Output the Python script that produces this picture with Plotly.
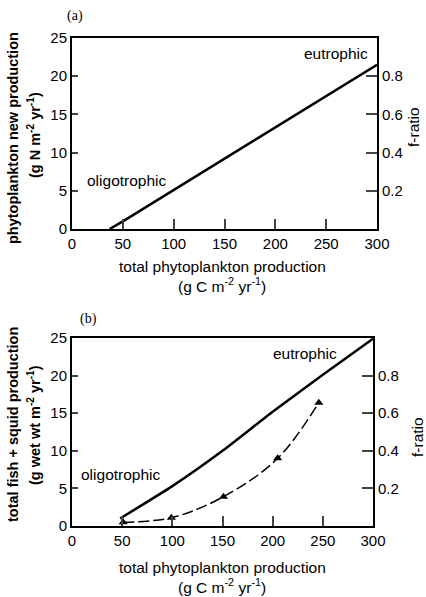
import plotly.graph_objects as go

# Panel (a): phytoplankton new production vs total production
a_x = [37, 50, 300]
a_y = [0, 1.0, 21.5]

# Panel (b): fish + squid production
b_line_x = [48, 100, 150, 200, 250, 300]
b_line_y = [1.0, 5.3, 10.0, 15.2, 20.1, 24.9]
b_pts_x = [51, 99, 151, 205, 246]
b_pts_y = [0.5, 1.1, 3.9, 9.0, 16.4]

x_ticks = [0, 50, 100, 150, 200, 250, 300]
y_ticks = [0, 5, 10, 15, 20, 25]
f_ticks = [0.2, 0.4, 0.6, 0.8]
f_labels = ["0.2", "0.4", "0.6", "0.8"]

FONT = "Liberation Sans, Arial"
SERIF = "Liberation Serif, Times New Roman"
tfs = 15    # tick labels
lfs = 15.5  # text labels

W, H = 426, 597
def px_x(v): return v / W
def px_y(v): return 1 - v / H

fig = go.Figure()

fig.add_trace(go.Scatter(x=a_x, y=a_y, mode="lines", line=dict(color="black", width=2.5),
                         xaxis="x", yaxis="y", showlegend=False))
fig.add_trace(go.Scatter(x=b_line_x, y=b_line_y, mode="lines",
                         line=dict(color="black", width=2.5, shape="spline", smoothing=0.5),
                         xaxis="x2", yaxis="y3", showlegend=False))
fig.add_trace(go.Scatter(x=b_pts_x, y=b_pts_y, mode="lines+markers",
                         line=dict(color="black", width=1.5, dash="11px,4px", shape="spline"),
                         marker=dict(symbol="triangle-up", size=8, color="black"),
                         xaxis="x2", yaxis="y3", showlegend=False))
fig.add_trace(go.Scatter(x=[None], y=[None], xaxis="x", yaxis="y2", showlegend=False))
fig.add_trace(go.Scatter(x=[None], y=[None], xaxis="x2", yaxis="y4", showlegend=False))

tickfont = dict(family=FONT, size=tfs, color="black")
xa = dict(range=[0, 300], tickvals=x_ticks, ticktext=[str(v) for v in x_ticks],
          ticks="inside", ticklen=10, tickwidth=1.5,
          showline=True, linewidth=2, linecolor="black", mirror=True, showgrid=False,
          zeroline=False, tickfont=tickfont, automargin=False)
ya = dict(range=[0, 25], tickvals=y_ticks, ticktext=[str(v) for v in y_ticks],
          ticks="inside", ticklen=6, tickwidth=1.5,
          showline=True, linewidth=2, linecolor="black", showgrid=False, zeroline=False,
          tickfont=tickfont, automargin=False)
fa = dict(range=[0, 1], tickvals=f_ticks, ticktext=f_labels, ticks="inside", ticklen=11,
          tickwidth=1.5, showline=True, linewidth=2, linecolor="black", showgrid=False,
          zeroline=False, side="right", tickfont=tickfont, automargin=False)

fig.update_layout(
    width=W, height=H, margin=dict(l=0, r=0, t=0, b=0, autoexpand=False),
    paper_bgcolor="white", plot_bgcolor="white",
    xaxis=dict(xa, domain=[px_x(72), px_x(377)], anchor="y"),
    yaxis=dict(ya, domain=[px_y(229), px_y(38)], anchor="x"),
    yaxis2=dict(fa, overlaying="y", anchor="x"),
    xaxis2=dict(xa, domain=[px_x(72), px_x(373)], anchor="y3"),
    yaxis3=dict(ya, domain=[px_y(526), px_y(338)], anchor="x2"),
    yaxis4=dict(fa, overlaying="y3", anchor="x2"),
    font=dict(family=FONT, color="black"),
)

lab = dict(family=FONT, size=lfs, color="black")
def note(text, x, y, xref="paper", yref="paper", angle=0, font=lab):
    fig.add_annotation(text=text, x=x, y=y, xref=xref, yref=yref, showarrow=False,
                       textangle=angle, font=font, xanchor="center", yanchor="middle")

# in-plot labels
note("eutrophic", 260, 23.0, "x", "y")
note("oligotrophic", 54, 6.4, "x", "y")
note("eutrophic", 232, 23.0, "x2", "y3")
note("oligotrophic", 49, 6.8, "x2", "y3")

# panel letters
note("(a)", px_x(75), px_y(16), font=dict(family=SERIF, size=14, color="black"))
note("(b)", px_x(88), px_y(319), font=dict(family=SERIF, size=14, color="black"))

# x titles
xt1 = "total phytoplankton production"
xt2 = "(g C m<sup>-2</sup> yr<sup>-1</sup>)"
note(xt1, px_x(222), px_y(266))
note(xt2, px_x(222), px_y(285))
note(xt1, px_x(222), px_y(567))
note(xt2, px_x(222), px_y(586))

# y titles (bold)
yb = dict(family=FONT, size=14.5, color="black")
note("<b>phytoplankton new production</b>", px_x(13), px_y(138), angle=-90, font=yb)
note("<b>(g N m<sup>-2</sup> yr<sup>-1</sup>)</b>", px_x(34), px_y(135), angle=-90, font=yb)
note("<b>total fish + squid production</b>", px_x(13), px_y(425), angle=-90, font=yb)
note("<b>(g wet wt m<sup>-2</sup> yr<sup>-1</sup>)</b>", px_x(34), px_y(425), angle=-90, font=yb)

# f-ratio titles
note("f-ratio", px_x(414), px_y(127), angle=-90)
note("f-ratio", px_x(417), px_y(437), angle=-90)

fig.write_html("out.html", config={"displayModeBar": False},
               post_script="document.body.style.margin='0';document.body.style.overflow='hidden';")
